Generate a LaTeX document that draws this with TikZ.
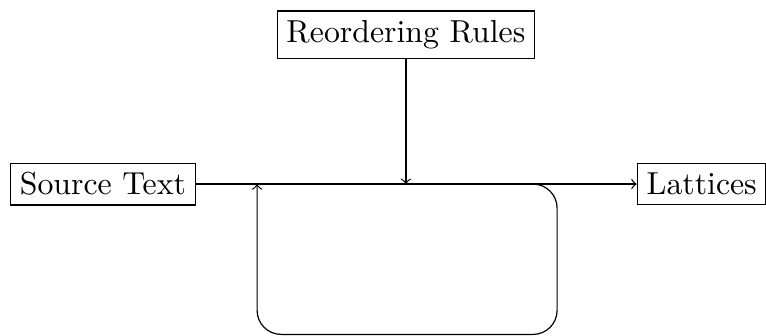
\documentclass[tikz,border=0pt]{standalone}
\usetikzlibrary{calc}
\begin{document}
\begin{tikzpicture}[x=1pt,y=1pt,
  boxnode/.style={draw,inner sep=3.1pt,font=\fontsize{10.6}{12.7}\selectfont},
  conn/.style={->}]
\useasboundingbox (0,0) rectangle (255.33,111.67);
\node[boxnode] (src) at (34.3,50.3) {Source Text};
\node[boxnode] (rules) at (135.3,100.1) {Reordering Rules};
\node[boxnode] (lat) at (233.9,50.3) {Lattices};
\coordinate (join) at (135.0,50.3);
\coordinate (ls) at (160.7,50.3);
\coordinate (lc) at (185.7,0.2);
\coordinate (le) at (85.7,50.3);
\draw[conn] (src) -- (lat);
\draw[conn] (rules) -- (rules |- join);
\draw[conn, rounded corners=8pt] (ls) -| (lc) -| (le);
\end{tikzpicture}
\end{document}
